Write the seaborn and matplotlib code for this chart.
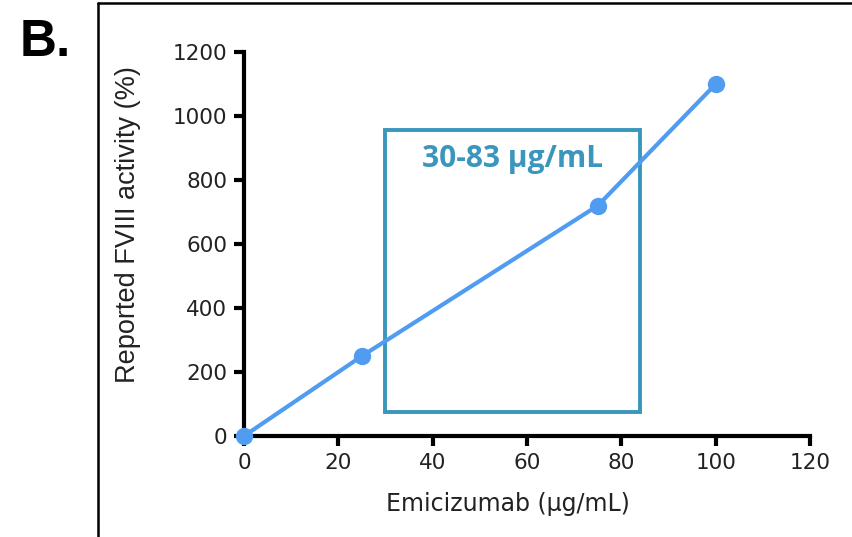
import matplotlib
matplotlib.use("Agg")
import matplotlib.pyplot as plt
import seaborn as sns
import pandas as pd
from matplotlib.lines import Line2D
from matplotlib.patches import Rectangle

# Data
emicizumab = [0, 25, 75, 100]
fviii_activity = [0, 250, 720, 1100]
range_low, range_high = 30, 84
range_bottom, range_top = 75, 955
range_label = "30-83 µg/mL"
x_ticks = [0, 20, 40, 60, 80, 100, 120]
y_ticks = [0, 200, 400, 600, 800, 1000, 1200]

sns.set_theme(style="white")
plt.rcParams['font.family'] = ['DejaVu Sans']

df = pd.DataFrame({"x": emicizumab, "y": fviii_activity})

fig = plt.figure(figsize=(8.53, 5.37), dpi=100)
ax = fig.add_axes([0.286, 0.188, 0.9496 - 0.286, 0.903 - 0.188])

sns.lineplot(data=df, x="x", y="y", ax=ax, color="#4f9cf0", linewidth=3,
             marker="o", markersize=12.5, markeredgewidth=0, zorder=5, clip_on=False)

ax.add_patch(Rectangle((range_low, range_bottom), range_high - range_low,
                       range_top - range_bottom, fill=False,
                       edgecolor="#3a96bd", linewidth=2.8, zorder=3))
ax.text((range_low + range_high) / 2, 865, range_label, ha="center", va="center",
        fontsize=21.5, fontweight="bold", color="#3a96bd", family="Open Sans")

ax.set_xlim(0, 120)
ax.set_ylim(0, 1200)
ax.set_xticks(x_ticks)
ax.set_yticks(y_ticks)
ax.tick_params(axis="both", direction="out", length=7, width=3, color="black",
               labelsize=15.5, labelcolor="#222222", left=True, bottom=True)
ax.tick_params(axis="y", pad=5)
ax.tick_params(axis="x", pad=5)
for s in ["top", "right"]:
    ax.spines[s].set_visible(False)
for s in ["left", "bottom"]:
    ax.spines[s].set_linewidth(3)
    ax.spines[s].set_color("black")

ax.set_xlabel("Emicizumab (µg/mL)", fontsize=17, color="#222222")
ax.xaxis.set_label_coords(0.466, -0.147)
ax.set_ylabel("Reported FVIII activity (%)", fontsize=19.5, color="#222222",
              family="Liberation Sans")
ax.yaxis.set_label_coords(-0.182, 0.552)

# Outer frame
fig.add_artist(Line2D([98 / 853, 98 / 853], [0, 1 - 3 / 537], color="black", linewidth=1.8))
fig.add_artist(Line2D([98 / 853, 1], [1 - 3 / 537, 1 - 3 / 537], color="black", linewidth=1.8))

fig.text(45 / 853, 1 - 42 / 537, "B.", fontsize=37, fontweight="bold",
         family="Liberation Sans", ha="center", va="center", color="black")

fig.savefig("out.png", dpi=100)
